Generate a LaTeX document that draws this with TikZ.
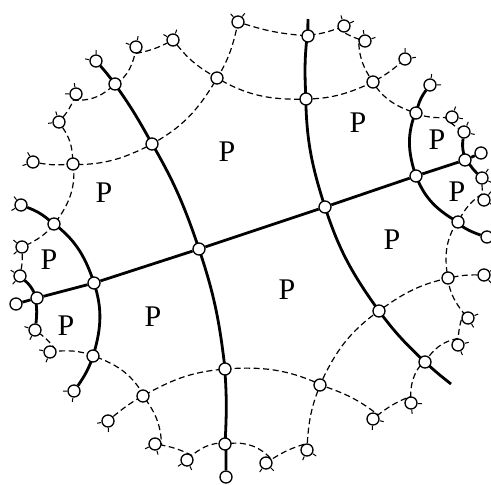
\documentclass[tikz,border=0pt]{standalone}
\usepackage{fontspec}
\setmainfont{Liberation Serif}
\usetikzlibrary{backgrounds}

\begin{document}
\begin{tikzpicture}[
    x=1pt, y=-1pt,
    font=\fontsize{30}{30}\selectfont,
    % Define styles
    vertex/.style = {circle, draw, fill=white, line width=1.3pt, minimum size=12pt, inner sep=0pt},
    geodesic/.style = {line width=2.8pt},
    halfline/.style = {line width=1.2pt, dash pattern=on 6pt off 3.5pt},
    stub/.style = {line width=1pt},
    tile/.style = {inner sep=0pt}
]
\useasboundingbox (0,0) rectangle (491,485);

% Vertices on the solid lines
\foreach \n/\x/\y in {A/199/249, B/325/207, C/94/283, D/37/298, E/416/176, F/465/160,
    g1a/96/61, g1b/115/84, g1c/152/144, g1d/225/369, g1e/225/444, g1f/226/477,
    g2a/308/36, g2b/306/99, g2c/379/311, g2d/425/362,
    g3a/430/85, g3b/416/113, g3c/458/222, g3d/487/237,
    g4a/21/205, g4b/54/224, g4c/93/356, g4d/74/391,
    d1/20/276, d2/16/304, d3/35/330, f1/464/132, f2/481/153, f3/482/178}
    \node [vertex] (\n) at (\x,\y) {};

% Vertices on the dashed lines only
\foreach \n/\x/\y in {t1/73/164, t2/33/162, t3/59/122, t4/76/94, t5/136/47, t6/173/40, t7/217/78, t8/238/22,
    u1/344/26, u2/365/41, u3/373/82, u4/405/59, u5/452/117,
    r1/484/200, r2/448/278, r3/484/275, r4/468/318, r5/458/345,
    b1/320/385, b2/411/403, b3/373/419, b4/307/450, b5/266/463, b6/187/460, b7/155/444, b8/143/396, b9/108/421,
    l1/50/352, l2/22/247}
    \node [vertex] (\n) at (\x,\y) {};

\coordinate (g2s) at (308,19);
\coordinate (g2e) at (451,384);

\begin{scope}[on background layer]
% Solid lines
\draw [geodesic] (g1a) to[bend left=2] (g1b) to[bend left=3.5] (g1c) to[bend left=5.7] (A)
    to[bend left=6] (g1d) to[bend left=3.7] (g1e) to[bend left=1.6] (g1f);
\draw [geodesic] (g2s) to[bend right=1] (g2a) to[bend right=4.8] (g2b) to[bend right=8.3] (B)
    to[bend right=8.9] (g2c) to[bend right=5.2] (g2d) to[bend right=2.6] (g2e);
\draw [geodesic] (g3a) to[bend right=10] (g3b) to[bend right=20] (E) to[bend right=20] (g3c) to[bend right=11] (g3d);
\draw [geodesic] (g4a) to[bend left=9] (g4b) to[bend left=17] (C) to[bend left=17.5] (g4c) to[bend left=9.5] (g4d);
\draw [geodesic] (D) -- (C) -- (A) -- (B) -- (E) -- (F);
\draw [geodesic] (d1) to[bend left=10] (D) to[bend left=10] (d3);
\draw [geodesic] (D) -- (d2);
\draw [geodesic] (f1) to[bend right=10] (F) to[bend right=10] (f3);
\draw [geodesic] (F) -- (f2);

% Dashed lines
\draw [halfline] (t2) to[bend right=7] (t1) to[bend right=14] (g1c) to[bend right=15.5] (t7) to[bend right=10] (t8);
\draw [halfline] (t6) to[bend right=10] (t7) to[bend right=16] (g2b) to[bend right=12] (u3) to[bend right=7] (u4);
\draw [halfline] (t3) to[bend left=15] (t1) to[bend left=22] (g4b) to[bend left=14] (l2);
\draw [halfline] (t3) to[bend right=8] (t4) to[bend right=21] (g1b) to[bend right=23] (t5) to[bend right=8] (t6);
\draw [halfline] (t8) to[bend right=6] (g2a) to[bend right=9] (u1) to[bend right=8] (u2) to[bend right=15] (u3)
    to[bend right=20] (g3b) to[bend right=13] (u5) to[bend right=6] (f1);
\draw [halfline] (f3) to[bend right=5] (r1) to[bend right=12.7] (g3c) to[bend right=21.7] (r2) to[bend right=17] (r4)
    to[bend right=8] (r5) to[bend right=20] (g2d) to[bend right=24] (b2) to[bend right=8] (b3)
    to[bend right=9] (b1) to[bend right=14] (g1d) to[bend right=12.5] (b8) to[bend right=6] (b9);
\draw [halfline] (r3) to[bend right=5.6] (r2) to[bend right=12] (g2c) to[bend right=15] (b1) to[bend right=10] (b4)
    to[bend right=8] (b5) to[bend right=25] (g1e) to[bend right=22.7] (b6) to[bend right=8] (b7)
    to[bend right=16] (b8) to[bend right=20.8] (g4c) to[bend right=13.8] (l1) to[bend right=8] (d3);
\draw [halfline] (d1) to[bend right=6] (l2);
\end{scope}

% Stubs on the outer vertices
\foreach \n/\a in {g1a/129, t2/159, t3/147, t4/139, t5/119, t6/110, t8/92, u1/66, u2/59, u4/49,
    g3a/41, u5/31, f1/27, f3/15, r1/10, r3/-8, r4/-19, r5/-26, b2/-44, b3/-54, b4/-73, b5/-85,
    b6/-105, b7/-114, b9/-128, g4d/-139, l1/-151, d3/-158, d1/-172, l2/-179, g4a/170} {
    \draw [stub] (\n) ++(\a+40:7pt) -- ++(\a+40:4pt);
    \draw [stub] (\n) ++(\a-40:7pt) -- ++(\a-40:4pt);
}

% Tiles
\foreach \n/\x/\y in {p1/227/152, p2/358/123, p3/437/140, p4/457/192, p5/392/240,
    p6/287/290, p7/153/317, p8/66/326, p9/49/260, p10/104/193}
    \node [tile] (\n) at (\x,\y) {P};

\end{tikzpicture}
\end{document}
